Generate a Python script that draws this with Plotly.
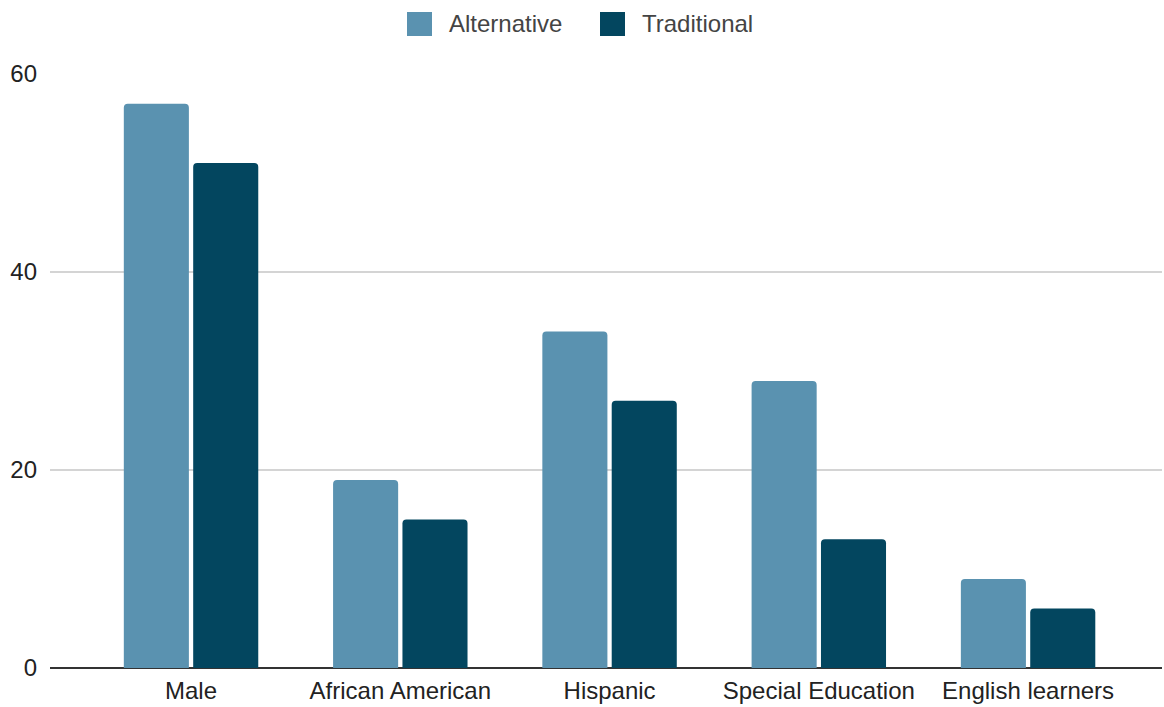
import plotly.graph_objects as go

# Share of students (%) by group, alternative vs traditional schools
categories = ["Male", "African American", "Hispanic", "Special Education", "English learners"]
alternative = [57, 19, 34, 29, 9]
traditional = [51, 15, 27, 13, 6]
series_names = ["Alternative", "Traditional"]
series_colors = ["#5a92b0", "#03465f"]
y_ticks = [0, 20, 40, 60]

FONT = "Liberation Sans, Arial, sans-serif"

# Plot area in pixels (left, right, top, bottom)
PL, PR, PT, PB = 50, 1162, 74, 668


def px_to_paper_x(px):
    return (px - PL) / (PR - PL)


def px_to_paper_y(py):
    return (PB - py) / (PB - PT)


fig = go.Figure()
for name, vals, color in zip(series_names, [alternative, traditional], series_colors):
    fig.add_trace(go.Bar(
        x=categories, y=vals, name=name,
        marker=dict(color=color, line=dict(width=0)),
        showlegend=False,
    ))

# Legend drawn as large rounded swatches with labels above the plot
legend_x = [407, 600]
for i, (name, color) in enumerate(zip(series_names, series_colors)):
    fig.add_shape(
        type="rect", xref="paper", yref="paper",
        x0=px_to_paper_x(legend_x[i]), x1=px_to_paper_x(legend_x[i] + 25),
        y0=px_to_paper_y(12), y1=px_to_paper_y(36),
        fillcolor=color, line=dict(width=0), layer="above",
    )
    fig.add_annotation(
        xref="paper", yref="paper",
        x=px_to_paper_x(legend_x[i] + 40), y=px_to_paper_y(23),
        text=name, showarrow=False,
        xanchor="left", yanchor="middle",
        font=dict(family=FONT, size=24, color="#444444"),
    )

fig.update_layout(
    width=1164, height=707,
    margin=dict(l=PL, r=1164 - PR, t=PT, b=707 - PB),
    paper_bgcolor="white", plot_bgcolor="white",
    barmode="group", bargap=0.337, bargroupgap=0.062,
    barcornerradius=4,
    font=dict(family=FONT, size=24, color="#222222"),
    xaxis=dict(
        range=[-0.674, 4.64], showgrid=False, zeroline=False,
        showline=False, ticks="", tickfont=dict(size=24, color="#222222"),
        ticklabelstandoff=6,
    ),
    yaxis=dict(
        range=[0, 60], tickvals=y_ticks, showgrid=True,
        gridcolor="#d4d4d4", gridwidth=2,
        zeroline=True, zerolinecolor="#333333", zerolinewidth=2,
        showline=False, ticks="", tickfont=dict(size=24, color="#222222"),
        ticklabelstandoff=12,
    ),
)

fig.write_html("out.html")
